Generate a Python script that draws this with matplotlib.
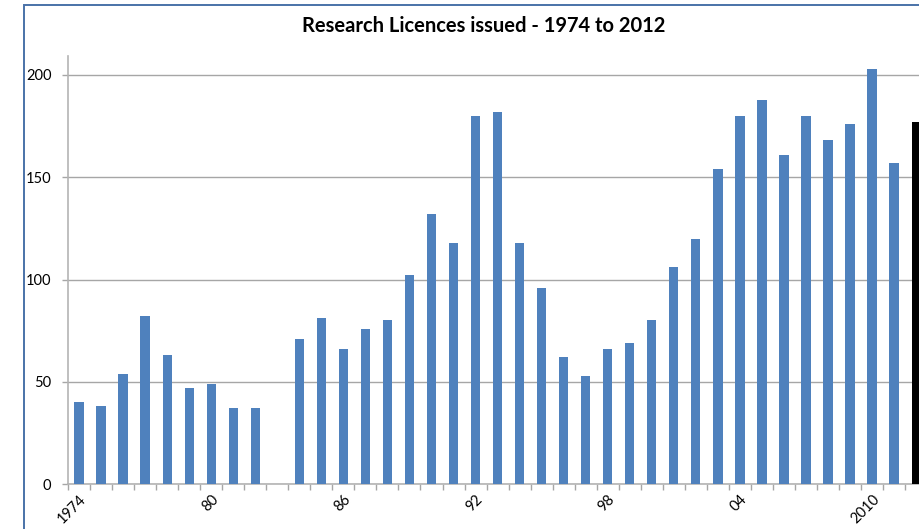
import matplotlib
matplotlib.use("Agg")
import matplotlib.pyplot as plt
from matplotlib.patches import Rectangle

plt.rcParams['font.family'] = ['Lato', 'DejaVu Sans']

# Research licences per year, 1974-2012 (1983 had none shown)
years = list(range(1974, 2013))
licences = [40, 38, 54, 82, 63, 47, 49, 37, 37, 0,
            71, 81, 66, 76, 80, 102, 132, 118, 180, 182,
            118, 96, 62, 53, 66, 69, 80, 106, 120, 154,
            180, 188, 161, 180, 168, 176, 203, 157, 177]
tick_labels = {1974: '1974', 1980: '80', 1986: '86', 1992: '92',
               1998: '98', 2004: '04', 2010: '2010'}

W, H = 920, 529
fig = plt.figure(figsize=(W / 100, H / 100), dpi=100)

# chart area border (cropped on right and bottom)
fig.patches.append(Rectangle((23.5 / W, -0.2), 2.0, (H - 5) / H + 0.2,
                             transform=fig.transFigure, fill=False,
                             edgecolor='#4a72a8', linewidth=1.4))

x0, x_step = 68, 22.03
n = len(years)
left = x0 / W
width = n * x_step / W
bottom = (H - 484) / H
top = (H - 56) / H
ax = fig.add_axes([left, bottom, width, top - bottom])

pos = list(range(n))
colors = ['#4f81bd'] * n
colors[-1] = '#000000'
ax.bar(pos, licences, width=0.42, color=colors, edgecolor='none', zorder=3)

ax.set_xlim(-0.5, n - 0.5)
ax.set_ylim(0, 200 * 428 / 409)
ax.set_yticks([0, 50, 100, 150, 200])
ax.yaxis.grid(True, color='#a6a6a6', linewidth=1.0, zorder=0)
ax.tick_params(axis='y', length=4, width=1, color='#a6a6a6', pad=8,
               labelsize=10.5)

lab_pos = [years.index(y) for y in tick_labels]
ax.set_xticks(lab_pos)
ax.set_xticklabels(list(tick_labels.values()), rotation=45, ha='right',
                   rotation_mode='anchor', fontsize=10.5)
ax.tick_params(axis='x', which='major', length=0, pad=6)
ax.set_xticks([p - 0.5 for p in range(n + 1)], minor=True)
ax.tick_params(axis='x', which='minor', length=4, width=1, color='#a6a6a6')

for s in ['top', 'right']:
    ax.spines[s].set_visible(False)
for s in ['left', 'bottom']:
    ax.spines[s].set_color('#b4b4b4')
    ax.spines[s].set_linewidth(1.2)

fig.text(484 / W, (H - 26) / H, 'Research Licences issued - 1974 to 2012',
         ha='center', va='center', fontsize=14.5, fontweight='bold')

fig.savefig('out.png', dpi=100)
